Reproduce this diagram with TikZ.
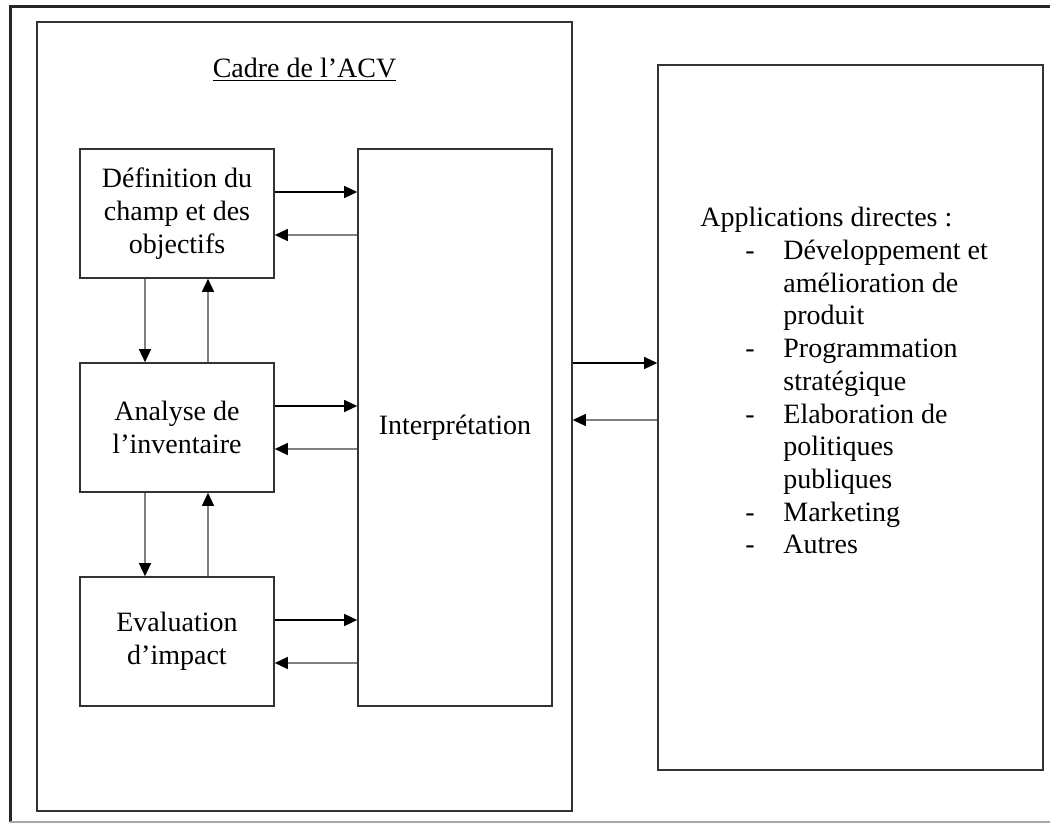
\documentclass[tikz,border=0pt]{standalone}
\usepackage{fontspec}
\setmainfont{Liberation Serif}
\usetikzlibrary{positioning, arrows.meta, calc}

\newcommand{\puce}{\hspace*{22.5pt}\makebox[19pt][l]{-}}
\newcommand{\suite}{\hspace*{41.5pt}}

\tikzset{
  etape/.style={draw=black!80, line width=0.8pt, minimum width=97pt, minimum height=64.5pt, inner sep=0pt, align=center},
  aller/.style={draw=black, line width=0.7pt, -{Triangle[length=6.5pt,width=6pt]}},
  retour/.style={draw=black!50, line width=0.7pt, -{Triangle[length=6.5pt,width=6pt,color=black]}}
}

\begin{document}
\begin{tikzpicture}[x=0.5pt, y=-0.5pt, font=\fontsize{14}{16.35}\selectfont]
\useasboundingbox (0,0) rectangle (1050,823);

% cadre de la page
\draw[black!85, line width=1.5pt] (1060,7) -- (10,7) -- (10,822);
\draw[black!35, line width=0.6pt] (10,822) -- (1060,822);

% cadre de l'ACV
\node[etape, minimum width=267.5pt, minimum height=394.5pt] (cadre) at (304.5,416.5) {};
\node (titre) at (304.5,70) {\underline{Cadre de l’ACV}};

\node[etape] (defchamp) at (177,213.5) {Définition du\\champ et des\\objectifs};
\node[etape] (inventaire) at (177,427.5) {Analyse de\\l’inventaire};
\node[etape] (impact) at (177,641.5) {Evaluation\\d’impact};
\node[etape, minimum height=278.5pt] (interp) at (455,427.5) {Interprétation};

% applications
\node[etape, minimum width=192.5pt, minimum height=352.5pt] (applis) at (850.5,417.5) {};
\node[anchor=north west, inner sep=0pt, align=left] (liste) at (700,207) {Applications directes :\\
\puce Développement et\\
\suite amélioration de\\
\suite produit\\
\puce Programmation\\
\suite stratégique\\
\puce Elaboration de\\
\suite politiques\\
\suite publiques\\
\puce Marketing\\
\puce Autres};

% fleches vers l'interpretation
\draw[aller] ($(defchamp.east)+(0,-21.5)$) -- ($(defchamp.east -| interp.west)+(0,-21.5)$);
\draw[retour] ($(defchamp.east -| interp.west)+(0,21.5)$) -- ($(defchamp.east)+(0,21.5)$);
\draw[aller] ($(inventaire.east)+(0,-21.5)$) -- ($(inventaire.east -| interp.west)+(0,-21.5)$);
\draw[retour] ($(inventaire.east -| interp.west)+(0,21.5)$) -- ($(inventaire.east)+(0,21.5)$);
\draw[aller] ($(impact.east)+(0,-21.5)$) -- ($(impact.east -| interp.west)+(0,-21.5)$);
\draw[retour] ($(impact.east -| interp.west)+(0,21.5)$) -- ($(impact.east)+(0,21.5)$);

% fleches verticales
\draw[retour] ($(defchamp.south)+(-32,0)$) -- ($(inventaire.north)+(-32,0)$);
\draw[retour] ($(inventaire.north)+(31,0)$) -- ($(defchamp.south)+(31,0)$);
\draw[retour] ($(inventaire.south)+(-32,0)$) -- ($(impact.north)+(-32,0)$);
\draw[retour] ($(impact.north)+(31,0)$) -- ($(inventaire.south)+(31,0)$);

% vers les applications
\draw[aller] ($(cadre.east)+(0,-53.5)$) -- ($(cadre.east -| applis.west)+(0,-53.5)$);
\draw[retour] ($(cadre.east -| applis.west)+(0,3.5)$) -- ($(cadre.east)+(0,3.5)$);

\end{tikzpicture}
\end{document}
